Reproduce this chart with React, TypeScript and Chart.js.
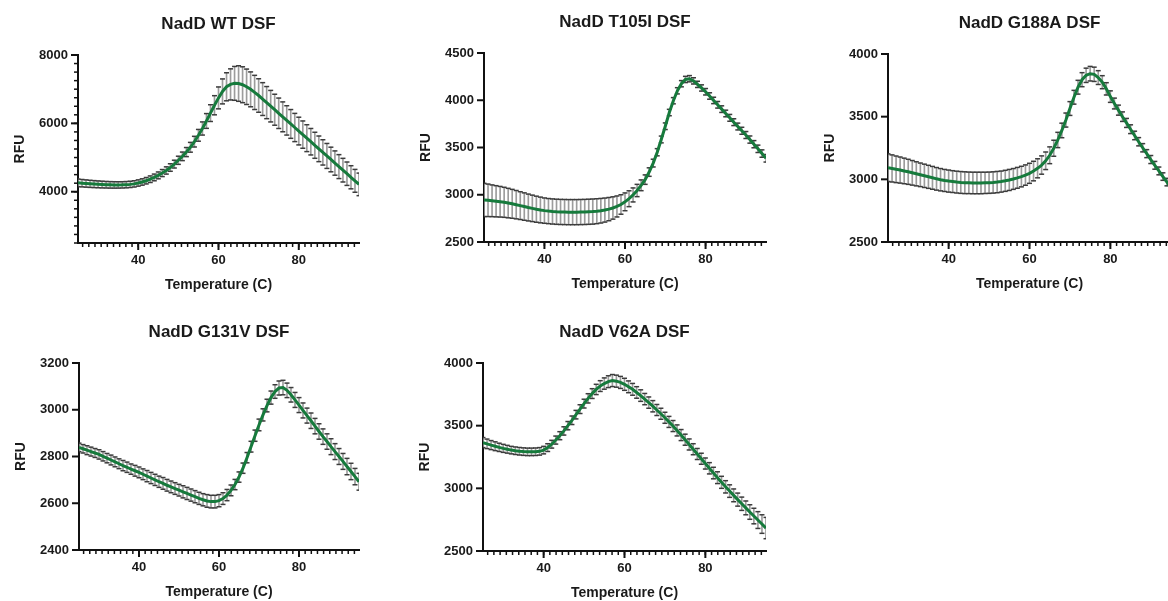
import React, { useEffect, useRef } from 'react';
import { Chart, registerables } from 'chart.js';

Chart.register(...registerables);
Chart.defaults.font.family = "'Liberation Sans', Arial, Helvetica, sans-serif";

// ---------- data ----------
const temperatures = [
  25, 26, 27, 28, 29, 30, 31, 32, 33, 34,
  35, 36, 37, 38, 39, 40, 41, 42, 43, 44,
  45, 46, 47, 48, 49, 50, 51, 52, 53, 54,
  55, 56, 57, 58, 59, 60, 61, 62, 63, 64,
  65, 66, 67, 68, 69, 70, 71, 72, 73, 74,
  75, 76, 77, 78, 79, 80, 81, 82, 83, 84,
  85, 86, 87, 88, 89, 90, 91, 92, 93, 94,
  95,
];

const wtMean = [
  4260, 4250, 4240, 4231, 4223, 4216, 4210, 4205, 4201, 4199,
  4199, 4201, 4206, 4215, 4230, 4255, 4285, 4322, 4366, 4418,
  4478, 4546, 4622, 4708, 4808, 4920, 5035, 5160, 5300, 5465,
  5650, 5850, 6070, 6300, 6530, 6745, 6935, 7070, 7140, 7170,
  7165, 7130, 7070, 6995, 6905, 6815, 6711, 6607, 6503, 6399,
  6295, 6191, 6087, 5983, 5879, 5775, 5671, 5567, 5463, 5359,
  5255, 5151, 5047, 4943, 4839, 4735, 4631, 4527, 4423, 4319,
  4215,
];
const wtSd = [
  110, 108, 106, 104, 102, 100, 98, 96, 95, 94,
  93, 92, 92, 92, 92, 92, 93, 94, 96, 98,
  100, 103, 106, 110, 114, 119, 125, 133, 143, 156,
  172, 192, 216, 245, 280, 320, 365, 410, 455, 495,
  520, 525, 518, 510, 500, 490, 480, 470, 461, 453,
  445, 437, 429, 421, 413, 405, 399, 393, 387, 381,
  375, 370, 365, 360, 355, 350, 346, 342, 338, 334,
  330,
];

const t105iMean = [
  2945, 2941, 2936, 2931, 2926, 2920, 2912, 2904, 2895, 2885,
  2875, 2865, 2856, 2847, 2839, 2832, 2827, 2823, 2820, 2818,
  2817, 2816, 2816, 2816, 2817, 2818, 2820, 2822, 2826, 2831,
  2838, 2848, 2860, 2876, 2897, 2925, 2958, 2998, 3045, 3100,
  3160, 3240, 3335, 3450, 3585, 3725, 3870, 3995, 4100, 4175,
  4220, 4228, 4205, 4168, 4130, 4090, 4045, 3998, 3952, 3906,
  3860, 3814, 3768, 3722, 3677, 3632, 3584, 3535, 3486, 3436,
  3386,
];
const t105iSd = [
  176, 172, 168, 165, 162, 159, 156, 153, 150, 147,
  145, 142, 140, 138, 136, 134, 133, 133, 133, 133,
  133, 133, 133, 133, 133, 133, 133, 133, 132, 130,
  127, 123, 118, 111, 103, 94, 84, 74, 65, 57,
  50, 45, 41, 38, 36, 35, 34, 33, 33, 33,
  33, 33, 33, 33, 33, 34, 34, 34, 35, 35,
  35, 36, 36, 36, 37, 37, 38, 38, 39, 39,
  40,
];

const g188aMean = [
  3093, 3087, 3080, 3074, 3067, 3060, 3052, 3044, 3036, 3028,
  3020, 3012, 3004, 2997, 2991, 2986, 2982, 2978, 2975, 2973,
  2972, 2971, 2971, 2971, 2972, 2973, 2975, 2978, 2982, 2988,
  2995, 3003, 3012, 3022, 3034, 3048, 3066, 3088, 3114, 3148,
  3192, 3248, 3314, 3390, 3473, 3565, 3655, 3735, 3795, 3830,
  3843, 3838, 3812, 3775, 3722, 3660, 3605, 3552, 3500, 3450,
  3400, 3350, 3300, 3252, 3205, 3158, 3112, 3067, 3022, 2978,
  2935,
];
const g188aSd = [
  110, 108, 106, 104, 102, 100, 98, 96, 94, 93,
  92, 91, 90, 89, 88, 88, 87, 87, 87, 87,
  86, 86, 86, 86, 85, 85, 85, 85, 84, 84,
  84, 83, 83, 82, 81, 80, 78, 76, 73, 70,
  67, 64, 61, 58, 56, 55, 55, 55, 56, 57,
  58, 57, 55, 52, 49, 46, 43, 40, 38, 36,
  35, 34, 33, 33, 32, 32, 31, 31, 30, 30,
  30,
];

const g131vMean = [
  2839, 2833, 2827, 2821, 2815, 2809, 2801, 2793, 2785, 2777,
  2769, 2761, 2754, 2746, 2739, 2732, 2724, 2716, 2708, 2700,
  2692, 2685, 2677, 2670, 2663, 2656, 2649, 2642, 2635, 2628,
  2621, 2615, 2610, 2607, 2607, 2611, 2620, 2635, 2655, 2680,
  2712, 2750, 2795, 2842, 2889, 2935, 2978, 3018, 3052, 3078,
  3093, 3095, 3083, 3064, 3042, 3020, 2997, 2975, 2953, 2930,
  2907, 2885, 2864, 2842, 2821, 2800, 2779, 2757, 2736, 2714,
  2692,
];
const g131vSd = [
  18, 18, 19, 19, 19, 20, 20, 20, 21, 21,
  21, 22, 22, 22, 23, 23, 23, 24, 24, 24,
  24, 25, 25, 25, 25, 25, 26, 26, 26, 26,
  26, 26, 27, 27, 27, 26, 25, 24, 23, 22,
  22, 22, 22, 23, 24, 25, 26, 27, 28, 29,
  30, 31, 31, 31, 32, 32, 32, 32, 33, 33,
  33, 33, 33, 34, 34, 34, 34, 35, 35, 35,
  36,
];

const v62aMean = [
  3365, 3355, 3345, 3336, 3327, 3319, 3312, 3305, 3300, 3296,
  3293, 3291, 3291, 3292, 3295, 3305, 3325, 3352, 3385, 3420,
  3458, 3500, 3543, 3588, 3632, 3676, 3718, 3756, 3789, 3816,
  3836, 3851, 3860, 3855, 3845, 3830, 3810, 3790, 3765, 3740,
  3712, 3684, 3655, 3625, 3595, 3563, 3530, 3497, 3462, 3425,
  3388, 3350, 3312, 3274, 3236, 3198, 3160, 3122, 3085, 3048,
  3012, 2978, 2944, 2910, 2877, 2844, 2811, 2779, 2747, 2715,
  2683,
];
const v62aSd = [
  40, 38, 36, 35, 33, 32, 31, 30, 30, 30,
  30, 30, 30, 30, 30, 30, 31, 31, 32, 32,
  33, 33, 34, 34, 35, 35, 37, 39, 41, 43,
  45, 47, 48, 48, 48, 48, 47, 47, 46, 46,
  45, 45, 45, 44, 44, 44, 44, 44, 44, 44,
  44, 44, 44, 44, 44, 44, 45, 46, 47, 48,
  49, 50, 51, 52, 53, 55, 58, 62, 67, 74,
  85,
];

// tick labels
const xTickLabels = [40, 60, 80];
const wtYTicks = [4000, 6000, 8000];
const t105iYTicks = [2500, 3000, 3500, 4000, 4500];
const g188aYTicks = [2500, 3000, 3500, 4000];
const g131vYTicks = [2400, 2600, 2800, 3000, 3200];
const v62aYTicks = [2500, 3000, 3500, 4000];

const titles = ['NadD WT DSF', 'NadD T105I DSF', 'NadD G188A DSF', 'NadD G131V DSF', 'NadD V62A DSF'];

// ---------- panel definitions ----------
type PanelDef = {
  title: string;
  mean: number[];
  sd: number[];
  yMin: number;
  yMax: number;
  yTicks: number[];
  yMinorStep: number | null;
};

const panels: PanelDef[] = [
  { title: titles[0], mean: wtMean, sd: wtSd, yMin: 2500, yMax: 8000, yTicks: wtYTicks, yMinorStep: 250 },
  { title: titles[1], mean: t105iMean, sd: t105iSd, yMin: 2500, yMax: 4500, yTicks: t105iYTicks, yMinorStep: null },
  { title: titles[2], mean: g188aMean, sd: g188aSd, yMin: 2500, yMax: 4000, yTicks: g188aYTicks, yMinorStep: null },
  { title: titles[3], mean: g131vMean, sd: g131vSd, yMin: 2400, yMax: 3200, yTicks: g131vYTicks, yMinorStep: null },
  { title: titles[4], mean: v62aMean, sd: v62aSd, yMin: 2500, yMax: 4000, yTicks: v62aYTicks, yMinorStep: null },
];

// layout (page pixels): axis x, plot top, plot width, plot height
const layouts = [
  { axisX: 78, plotTop: 55, plotW: 281, plotH: 188 },
  { axisX: 484, plotTop: 53, plotW: 282, plotH: 189 },
  { axisX: 888, plotTop: 54, plotW: 283, plotH: 188 },
  { axisX: 79, plotTop: 363, plotW: 280, plotH: 187 },
  { axisX: 483, plotTop: 363, plotW: 283, plotH: 188 },
];

const X_MIN = 25;
const X_MAX = 95;
const X_MINOR_STEP = 20 / 13;

const GREEN = '#167a3c';
const TEXT = '#1a1a1a';
const AXIS_W = 78;
const XAXIS_H = 57;
const TOP_H = 55;
const RIGHT_PAD = 12;

const tickMarksPlugin = {
  id: 'tickMarks',
  afterDraw(chart: any, _args: any, opts: any) {
    const { ctx, chartArea } = chart;
    const xs = chart.scales.x;
    const ys = chart.scales.y;
    ctx.save();
    ctx.strokeStyle = '#111';
    ctx.lineCap = 'butt';
    const bottom = chartArea.bottom;
    const left = chartArea.left;
    // x minor
    ctx.lineWidth = 1.5;
    for (let k = -20; k <= 60; k++) {
      const v = 40 + k * X_MINOR_STEP;
      if (v < X_MIN + 0.3 || v > X_MAX + 0.01) continue;
      const px = xs.getPixelForValue(v);
      ctx.beginPath();
      ctx.moveTo(px, bottom);
      ctx.lineTo(px, bottom + 4);
      ctx.stroke();
    }
    // x major
    ctx.lineWidth = 2;
    for (const v of opts.xMajor) {
      const px = xs.getPixelForValue(v);
      ctx.beginPath();
      ctx.moveTo(px, bottom);
      ctx.lineTo(px, bottom + 7);
      ctx.stroke();
    }
    // y minor
    if (opts.yMinorStep) {
      ctx.lineWidth = 1.5;
      for (let v = opts.yMin; v <= opts.yMax + 0.01; v += opts.yMinorStep) {
        const py = ys.getPixelForValue(v);
        ctx.beginPath();
        ctx.moveTo(left, py);
        ctx.lineTo(left - 4, py);
        ctx.stroke();
      }
    }
    ctx.lineWidth = 2;
    for (const v of opts.yMajor) {
      const py = ys.getPixelForValue(v);
      ctx.beginPath();
      ctx.moveTo(left, py);
      ctx.lineTo(left - 7, py);
      ctx.stroke();
    }
    ctx.restore();
  },
};

function Panel({ def, lay }: { def: PanelDef; lay: typeof layouts[number] }) {
  const ref = useRef<HTMLCanvasElement>(null);
  const width = AXIS_W + lay.plotW + RIGHT_PAD;
  const height = TOP_H + lay.plotH + XAXIS_H;

  useEffect(() => {
    const canvas = ref.current;
    if (!canvas) return;
    const lo = def.mean.map((m, i) => m - def.sd[i]);
    const hi = def.mean.map((m, i) => m + def.sd[i]);

    const chart = new Chart(canvas, {
      type: 'line',
      data: {
        datasets: [
          {
            type: 'line',
            label: 'mean',
            data: temperatures.map((t, i) => ({ x: t, y: def.mean[i] })),
            borderColor: GREEN,
            borderWidth: 3,
            pointRadius: 0,
            tension: 0,
            fill: false,
            order: 0,
          },
          {
            type: 'line',
            label: 'upper',
            data: temperatures.map((t, i) => ({ x: t, y: hi[i] })),
            showLine: false,
            pointStyle: 'line',
            pointRadius: 2.5,
            pointBorderWidth: 1.5,
            pointBorderColor: '#3c3c3c',
            borderColor: '#3c3c3c',
            order: 1,
          },
          {
            type: 'line',
            label: 'lower',
            data: temperatures.map((t, i) => ({ x: t, y: lo[i] })),
            showLine: false,
            pointStyle: 'line',
            pointRadius: 2.5,
            pointBorderWidth: 1.5,
            pointBorderColor: '#3c3c3c',
            borderColor: '#3c3c3c',
            order: 1,
          },
          {
            type: 'bar',
            label: 'sd',
            data: temperatures.map((t, i) => ({ x: t, y: [lo[i], hi[i]] })) as any,
            backgroundColor: '#9c9c9c',
            borderWidth: 0,
            barThickness: 1,
            order: 2,
          } as any,
        ],
      },
      options: {
        responsive: false,
        animation: false,
        events: [],
        layout: { padding: { top: 0, left: 0, right: RIGHT_PAD, bottom: 0 } },
        plugins: {
          legend: { display: false },
          tooltip: { enabled: false },
          title: {
            display: true,
            text: def.title,
            fullSize: false,
            color: TEXT,
            font: { size: 17, weight: 'bold' },
            padding: { top: 14.3, bottom: TOP_H - 14.3 - 17 * 1.2 },
          },
          tickMarks: {
            xMajor: xTickLabels,
            yMajor: def.yTicks,
            yMinorStep: def.yMinorStep,
            yMin: def.yMin,
            yMax: def.yMax,
          },
        } as any,
        scales: {
          x: {
            type: 'linear',
            min: X_MIN,
            max: X_MAX,
            offset: false,
            afterBuildTicks: (s: any) => {
              s.ticks = xTickLabels.map((v) => ({ value: v }));
            },
            afterFit: (s: any) => {
              s.height = XAXIS_H;
            },
            grid: { drawOnChartArea: false, drawTicks: false },
            border: { display: true, color: '#111', width: 2 },
            ticks: {
              padding: 10,
              color: TEXT,
              font: { size: 13, weight: 'bold' },
              maxRotation: 0,
              autoSkip: false,
              callback: (v: any) => String(v),
            },
            title: {
              display: true,
              text: 'Temperature (C)',
              color: TEXT,
              font: { size: 14, weight: 'bold' },
              padding: { top: 0, bottom: 6.6 },
            },
          },
          y: {
            type: 'linear',
            min: def.yMin,
            max: def.yMax,
            afterBuildTicks: (s: any) => {
              s.ticks = def.yTicks.map((v) => ({ value: v }));
            },
            afterFit: (s: any) => {
              s.width = AXIS_W;
            },
            grid: { drawOnChartArea: false, drawTicks: false },
            border: { display: true, color: '#111', width: 2 },
            ticks: {
              padding: 10,
              color: TEXT,
              font: { size: 13, weight: 'bold' },
              autoSkip: false,
              callback: (v: any) => String(v),
            },
            title: {
              display: true,
              text: 'RFU',
              color: TEXT,
              font: { size: 14, weight: 'bold' },
              padding: { top: 11.6, bottom: 0 },
            },
          },
        },
      } as any,
      plugins: [tickMarksPlugin as any],
    });
    return () => chart.destroy();
  }, [def, lay]);

  return (
    <canvas
      ref={ref}
      width={width}
      height={height}
      style={{
        position: 'absolute',
        left: lay.axisX - AXIS_W,
        top: lay.plotTop - TOP_H,
        width,
        height,
      }}
    />
  );
}

export default function App() {
  return (
    <div
      style={{
        position: 'absolute',
        left: 0,
        top: 0,
        width: 1168,
        height: 601,
        overflow: 'hidden',
        background: '#ffffff',
      }}
    >
      {panels.map((p, i) => (
        <Panel key={i} def={p} lay={layouts[i]} />
      ))}
    </div>
  );
}
